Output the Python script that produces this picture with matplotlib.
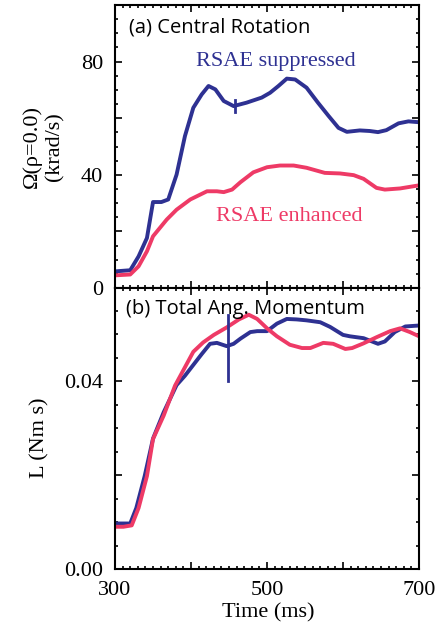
import matplotlib.pyplot as plt
import numpy as np
from matplotlib.ticker import MultipleLocator

# Panel (a): central rotation, krad/s
t_sup_a = [300, 320, 331, 342, 350, 361, 370, 381, 392, 403, 414, 423, 432, 443, 456,
           473, 493, 504, 515, 526, 537, 552, 567, 581, 594, 605, 622, 635, 646, 657,
           673, 686, 700]
rot_sup = [5.9, 6.3, 11.2, 17.7, 30.4, 30.4, 31.3, 40.1, 53.7, 63.7, 68.4, 71.4, 70.2,
           66.1, 64.3, 65.5, 67.3, 69.0, 71.4, 74.0, 73.7, 70.8, 65.5, 60.8, 56.6, 55.2,
           55.7, 55.5, 55.1, 55.8, 58.2, 58.9, 58.6]
t_enh_a = [300, 320, 331, 342, 350, 368, 381, 399, 421, 434, 443, 454, 465, 482, 500,
           517, 535, 552, 576, 596, 614, 627, 644, 655, 675, 700]
rot_enh = [4.5, 4.8, 7.7, 13.0, 18.3, 24.2, 27.7, 31.3, 34.2, 34.2, 33.9, 34.8, 37.4,
           40.9, 42.7, 43.3, 43.3, 42.5, 40.7, 40.5, 39.9, 38.6, 35.4, 34.8, 35.2, 36.3]
bar_a_t = [458, 458]
bar_a_y = [62.3, 66.5]

# Panel (b): total angular momentum, N m s
t_sup_b = [300, 320, 328, 339, 350, 364, 381, 392, 403, 414, 425, 434, 447, 456, 465,
           478, 487, 500, 513, 526, 539, 552, 570, 583, 600, 609, 627, 646, 655, 668,
           682, 700]
L_sup = [0.0097, 0.0097, 0.0130, 0.0198, 0.0278, 0.0334, 0.0392, 0.0412, 0.0435, 0.0458,
         0.0480, 0.0482, 0.0475, 0.0480, 0.0491, 0.0505, 0.0507, 0.0507, 0.0523, 0.0533,
         0.0532, 0.0530, 0.0526, 0.0516, 0.0499, 0.0496, 0.0492, 0.0480, 0.0485, 0.0505,
         0.0517, 0.0519]
t_enh_b = [300, 311, 322, 331, 342, 350, 364, 379, 392, 403, 416, 430, 447, 463, 476,
           487, 500, 513, 530, 546, 557, 574, 587, 603, 612, 627, 644, 662, 675, 688, 700]
L_enh = [0.0090, 0.0090, 0.0093, 0.0130, 0.0198, 0.0277, 0.0327, 0.0391, 0.0430, 0.0463,
         0.0483, 0.0499, 0.0515, 0.0532, 0.0542, 0.0533, 0.0513, 0.0496, 0.0478, 0.0471,
         0.0471, 0.0482, 0.0480, 0.0469, 0.0471, 0.0481, 0.0494, 0.0507, 0.0513, 0.0505,
         0.0496]
bar_b_t = [448, 448]
bar_b_y = [0.0401, 0.0541]

blue = '#2e3192'
pink = '#ee3a66'
serif = 'Liberation Serif'
sans = 'Open Sans'
lw = 2.8

fig = plt.figure(figsize=(4.4, 6.29), dpi=100)
ax1 = fig.add_axes([0.2614, 0.542, 0.691, 0.450])
ax2 = fig.add_axes([0.2614, 0.0954, 0.691, 0.4475])

for ax in (ax1, ax2):
    ax.set_xlim(300, 700)
    ax.xaxis.set_major_locator(MultipleLocator(100))
    ax.xaxis.set_minor_locator(MultipleLocator(10))
    ax.tick_params(which='both', direction='in', top=True, right=True, width=1.2,
                   labelsize=16, pad=8.5)
    ax.tick_params(which='major', length=5)
    ax.tick_params(which='minor', length=2.5)
    for s in ax.spines.values():
        s.set_linewidth(1.5)

# top panel
ax1.plot(t_sup_a, rot_sup, color=blue, lw=lw)
ax1.plot(t_enh_a, rot_enh, color=pink, lw=lw)
ax1.plot(bar_a_t, bar_a_y, color=blue, lw=2)
ax1.set_ylim(0, 100)
ax1.yaxis.set_minor_locator(MultipleLocator(5))
ax1.set_yticks([0, 20, 40, 60, 80])
ax1.set_yticklabels(['0', '', '40', '', '80'], fontfamily=serif)
ax1.set_xticklabels([])
ax1.text(0.046, 0.92, '(a) Central Rotation', transform=ax1.transAxes,
         fontfamily=sans, fontsize=14.5, va='center', ha='left')
ax1.text(511, 80, 'RSAE suppressed', color=blue, fontfamily=serif, fontsize=16,
         ha='center', va='center')
ax1.text(529, 25.4, 'RSAE enhanced', color=pink, fontfamily=serif, fontsize=16,
         ha='center', va='center')
ax1.set_ylabel('Ω(ρ=0.0)\n(krad/s)', fontfamily=serif, fontsize=16, linespacing=1.25,
               va='center')
ax1.yaxis.set_label_coords(-0.237, 0.5)

# bottom panel
ax2.plot(t_sup_b, L_sup, color=blue, lw=lw)
ax2.plot(t_enh_b, L_enh, color=pink, lw=lw)
ax2.plot(bar_b_t, bar_b_y, color=blue, lw=2)
ax2.set_ylim(0, 0.06)
ax2.yaxis.set_minor_locator(MultipleLocator(0.005))
ax2.set_yticks([0.0, 0.02, 0.04])
ax2.set_yticklabels(['0.00', '', '0.04'], fontfamily=serif)
ax2.set_xticks([300, 400, 500, 600, 700])
ax2.set_xticklabels(['300', '', '500', '', '700'], fontfamily=serif)
ax2.text(0.036, 0.922, '(b) Total Ang. Momentum', transform=ax2.transAxes,
         fontfamily=sans, fontsize=14.5, va='center', ha='left')
ax2.set_ylabel('L (Nm s)', fontfamily=serif, fontsize=16, va='center')
ax2.yaxis.set_label_coords(-0.247, 0.468)
ax2.set_xlabel('Time (ms)', fontfamily=serif, fontsize=16, va='center')
ax2.xaxis.set_label_coords(0.503, -0.156)

fig.savefig('out.png', dpi=100)
